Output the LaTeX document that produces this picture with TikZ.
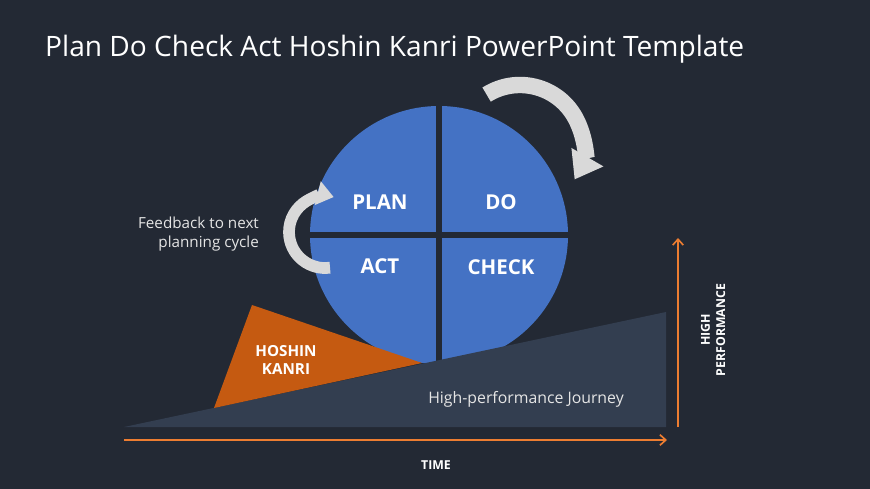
\documentclass[tikz,border=0pt]{standalone}
\usepackage{fontspec}
\setmainfont{Open Sans}
\usetikzlibrary{arrows.meta, positioning, calc}
\definecolor{bgNavy}{RGB}{35,41,52}
\definecolor{pdcaBlue}{RGB}{68,114,196}
\definecolor{pathGrey}{RGB}{51,62,80}
\definecolor{hkOrange}{RGB}{197,90,17}
\definecolor{axisOrange}{RGB}{237,125,49}
\definecolor{cycGrey}{RGB}{217,217,217}

\begin{document}
\begin{tikzpicture}[x=0.03cm, y=0.03cm,
        quad/.style={font=\fontsize{17.5pt}{20pt}\selectfont\bfseries, text=white},
        note/.style={font=\fontsize{13pt}{16pt}\selectfont, text=white!90!black},
        axislbl/.style={font=\fontsize{10.5pt}{13pt}\selectfont\bfseries, text=white, align=center},
        axis/.style={-{Straight Barb[length=5pt, width=9pt]}, draw=axisOrange, line width=1.4pt},
        cycle/.style={draw=cycGrey, line width=#1},
    ]
    \fill[bgNavy] (0,0) rectangle (870,-489);
    \useasboundingbox (0,0) rectangle (870,-489);
    \node[anchor=base west, text=white, font=\fontsize{24pt}{28pt}\selectfont, inner sep=0pt] (title) at (45,-57) {Plan Do Check Act Hoshin Kanri PowerPoint Template};
    % PDCA wheel
    \fill[pdcaBlue] (439,-235) circle (129);
    \draw[bgNavy, line width=5pt] (439,-100) -- (439,-380);
    \draw[bgNavy, line width=5pt] (305,-235) -- (573,-235);
    \node[quad] (plan) at (380,-202) {PLAN};
    \node[quad] (do) at (501,-202) {DO};
    \node[quad] (act) at (380,-266) {ACT};
    \node[quad] (check) at (501,-267) {CHECK};
    % journey wedge and Hoshin Kanri wedge
    \coordinate (jLeft) at (124,-427);
    \coordinate (jRight) at (666,-427);
    \coordinate (jTop) at (666,-312);
    \fill[pathGrey] (jLeft) -- (jRight) -- (jTop) -- cycle;
    \fill[hkOrange] (252,-305) -- (214,-408) -- (422,-363) -- cycle;
    \node[font=\fontsize{13pt}{16pt}\selectfont\bfseries, text=white, align=center] (hoshin) at (286,-360) {HOSHIN\\KANRI};
    \node[note, font=\fontsize{13.5pt}{16pt}\selectfont] (journey) at (526,-399) {High-performance Journey};
    % cycle arrows
    \draw[cycle=14pt, -{Triangle[length=22pt, width=30pt]}] (520,-148) ++(122:63) arc (122:-30:63);
    \draw[cycle=10pt, -{Triangle[length=14pt, width=20pt]}] (325,-232) ++(278:36) arc (278:76:36);
    \node[note, align=right, anchor=east] (feedback) at (263,-234) {Feedback to next\\planning cycle};
    % axes
    \coordinate (tStart) at (124,-440);
    \coordinate (tEnd) at (667,-440);
    \coordinate (pStart) at (678,-427);
    \coordinate (pEnd) at (678,-238);
    \draw[axis] (tStart) -- (tEnd);
    \draw[axis] (pStart) -- (pEnd);
    \node[axislbl] (time) at (436,-465) {TIME};
    \node[axislbl, rotate=90] (perf) at (713,-330) {HIGH\\PERFORMANCE};
\end{tikzpicture}
\end{document}
